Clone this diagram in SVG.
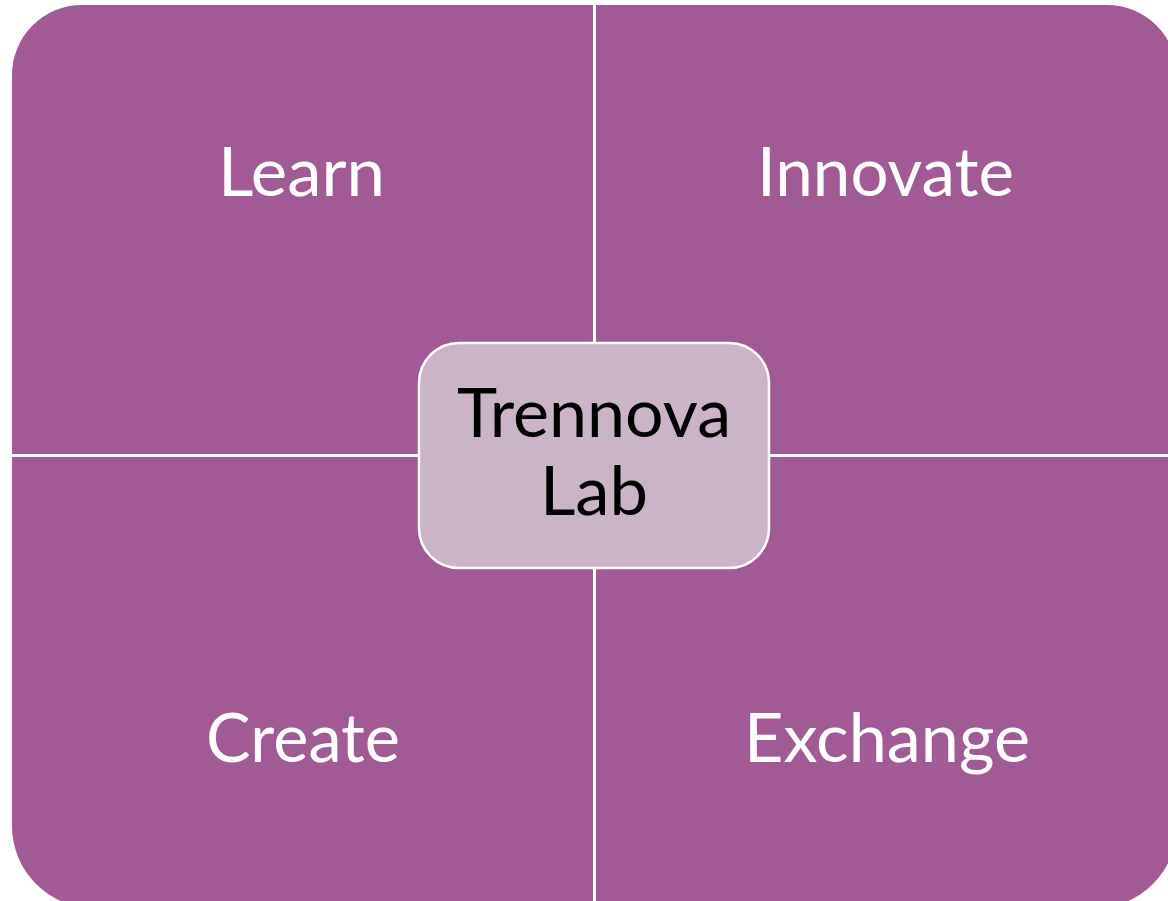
<svg xmlns="http://www.w3.org/2000/svg" width="1168" height="901" viewBox="0 0 1168 901">
  <style>
    .quad { fill: #A25A96; }
    .lbl { font-family: Lato, "Noto Sans", "Liberation Sans", sans-serif; font-size: 67px; fill: #FFFFFF; text-anchor: middle; }
    .ctr { fill: #CBB3C8; stroke: #FFFFFF; stroke-width: 2.5; }
    .ctrlbl { font-family: Lato, "Noto Sans", "Liberation Sans", sans-serif; font-size: 68px; fill: #000000; text-anchor: middle; }
  </style>
  <rect width="1168" height="901" fill="#FFFFFF"/>
  <g id="learn">
    <path class="quad" d="M12,454 L12,75 A70,70 0 0 1 82,5 L593,5 L593,454 Z"/>
    <text class="lbl" x="301.5" y="196" textLength="167" lengthAdjust="spacingAndGlyphs">Learn</text>
  </g>
  <g id="innovate">
    <path class="quad" d="M596,5 L1107,5 A70,70 0 0 1 1177,75 L1177,454 L596,454 Z"/>
    <text class="lbl" x="885.5" y="196" textLength="257" lengthAdjust="spacingAndGlyphs">Innovate</text>
  </g>
  <g id="create">
    <path class="quad" d="M12,457 L593,457 L593,908 L94,908 A82,82 0 0 1 12,826 Z"/>
    <text class="lbl" x="303" y="762" textLength="194" lengthAdjust="spacingAndGlyphs">Create</text>
  </g>
  <g id="exchange">
    <path class="quad" d="M596,457 L1177,457 L1177,826 A82,82 0 0 1 1095,908 L596,908 Z"/>
    <text class="lbl" x="887" y="762" textLength="286" lengthAdjust="spacingAndGlyphs">Exchange</text>
  </g>
  <g id="connectors"></g>
  <g id="trennova-lab">
    <rect class="ctr" x="419" y="343" width="350" height="225" rx="40" ry="40"/>
    <text class="ctrlbl" x="594" y="437" textLength="274" lengthAdjust="spacingAndGlyphs">Trennova</text>
    <text class="ctrlbl" x="594" y="515" textLength="108" lengthAdjust="spacingAndGlyphs">Lab</text>
  </g>
</svg>
